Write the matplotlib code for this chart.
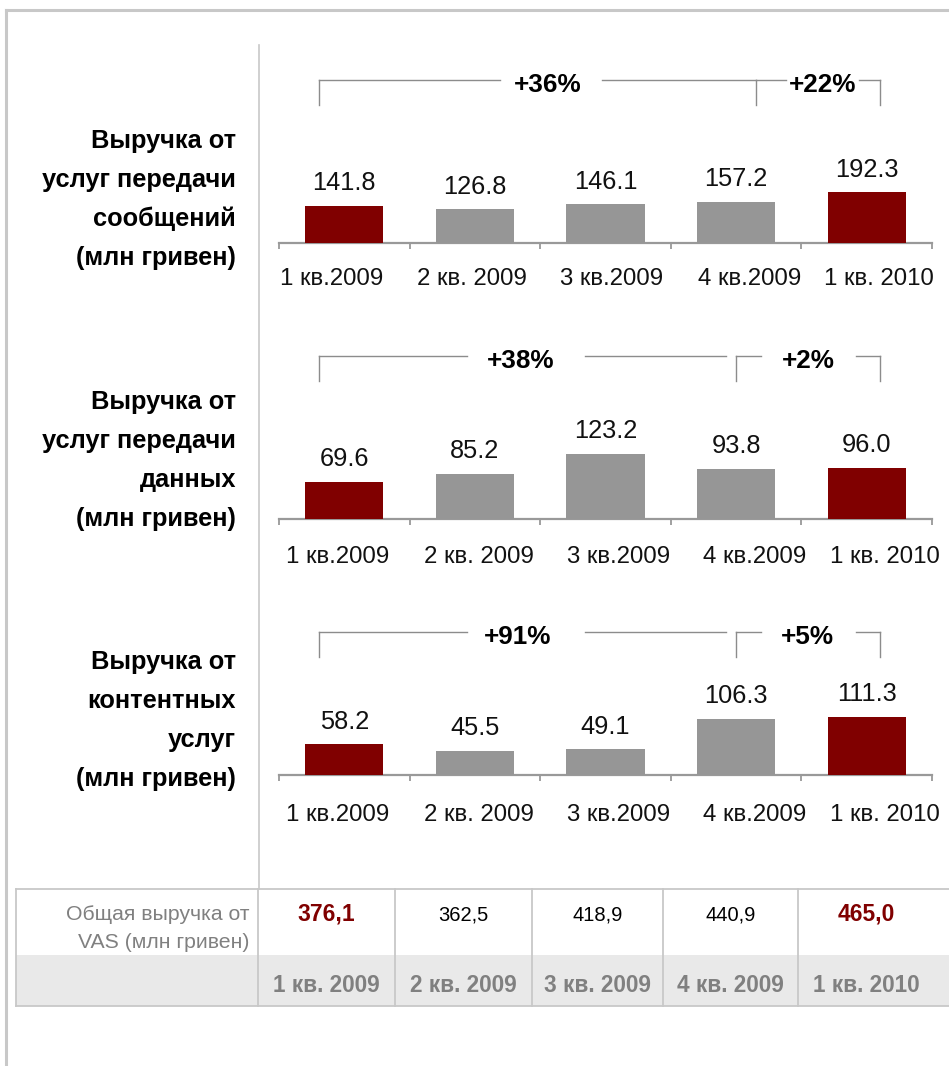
import matplotlib
matplotlib.use('Agg')
import matplotlib.pyplot as plt
from matplotlib.transforms import blended_transform_factory
from matplotlib.lines import Line2D
from matplotlib.patches import Rectangle

plt.rcParams['font.family'] = ['Liberation Sans', 'DejaVu Sans']

# ---------------- data ----------------
quarters = ['1 кв.2009', '2 кв. 2009', '3 кв.2009', '4 кв.2009', '1 кв. 2010']
messaging = [141.8, 126.8, 146.1, 157.2, 192.3]
data_services = [69.6, 85.2, 123.2, 93.8, 96.0]
content_services = [58.2, 45.5, 49.1, 106.3, 111.3]
highlight = [True, False, False, False, True]

panel_titles = [
    ['Выручка от', 'услуг передачи', 'сообщений', '(млн гривен)'],
    ['Выручка от', 'услуг передачи', 'данных', '(млн гривен)'],
    ['Выручка от', 'контентных', 'услуг', '(млн гривен)'],
]
growth_year = ['+36%', '+38%', '+91%']
growth_quarter = ['+22%', '+2%', '+5%']

table_row_title = ['Общая выручка от', 'VAS (млн гривен)']
total_vas = ['376,1', '362,5', '418,9', '440,9', '465,0']
table_quarters = ['1 кв. 2009', '2 кв. 2009', '3 кв. 2009', '4 кв. 2009', '1 кв. 2010']

# ---------------- style ----------------
W, H = 949, 1066
RED = '#800000'
GREY_BAR = '#969696'
LINE = '#c8c8c8'
BRACKET = '#8c8c8c'

fig = plt.figure(figsize=(W / 100, H / 100), dpi=100)
fig.patch.set_facecolor('white')

ov = fig.add_axes([0, 0, 1, 1])
ov.set_xlim(0, W)
ov.set_ylim(H, 0)
ov.axis('off')


def rect(left, top, width, height):
    return [left / W, 1 - (top + height) / H, width / W, height / H]


# frame and separator
ov.add_line(Line2D([6, W], [10, 10], color=LINE, lw=2.2))
ov.add_line(Line2D([6, 6], [10, H], color=LINE, lw=2.2))
ov.add_line(Line2D([259, 259], [45, 889], color=LINE, lw=1.2))

series = [messaging, data_services, content_services]
axis_y = [242.7, 518.5, 775.0]
px_per_unit = [0.262, 0.526, 0.525]
title_first_line = [141, 402, 662]
bracket_top = [80, 356, 632]
label_pad = [18.3, 19.8, 21.0]
# category-label shifts (category units) as laid out on the slide
label_shift = [[-0.10, -0.02, 0.05, 0.10, 0.09],
               [-0.05, 0.03, 0.10, 0.14, 0.14],
               [-0.05, 0.03, 0.10, 0.14, 0.14]]
# bracket geometry in category units: (start, end, left tick, right tick, label pos, gap)
big_br = [(-0.19, 3.15, True, True, 1.56, (1.19, 1.97)),
          (-0.19, 2.92, True, False, 1.35, (0.94, 1.84)),
          (-0.19, 2.92, True, False, 1.33, (0.94, 1.84))]
small_br = [(3.15, 4.10, False, True, 3.66, (3.38, 3.94)),
            (3.00, 4.10, True, True, 3.55, (3.19, 3.92)),
            (3.00, 4.10, True, True, 3.55, (3.19, 3.92))]

AX_LEFT, AX_RIGHT = 279, 932
AX_H = 200

for p in range(3):
    vals = series[p]
    ay = axis_y[p]
    ax = fig.add_axes(rect(AX_LEFT, ay - AX_H, AX_RIGHT - AX_LEFT, AX_H))
    ax.patch.set_alpha(0)
    ax.set_xlim(-0.5, 4.5)
    ax.set_ylim(0, AX_H / px_per_unit[p])
    colors = [RED if h else GREY_BAR for h in highlight]
    ax.bar(range(len(vals)), vals, width=0.6, color=colors, zorder=3)
    for i, v in enumerate(vals):
        ax.annotate(f'{v:.1f}', xy=(i, v), xytext=(0, 11.3), textcoords='offset points',
                    ha='center', va='baseline', fontsize=18.3, color='#111111',
                    annotation_clip=False)
    for s in ['top', 'right', 'left']:
        ax.spines[s].set_visible(False)
    ax.spines['bottom'].set_color('#999999')
    ax.spines['bottom'].set_linewidth(1.6)
    ax.set_yticks([])
    ax.set_xticks([i - 0.5 for i in range(len(vals) + 1)])
    ax.set_xticklabels([])
    ax.tick_params(axis='x', which='major', direction='out', length=4.5, width=1.3,
                   color='#999999')
    ax.set_xticks([i + d for i, d in enumerate(label_shift[p])], labels=quarters, minor=True)
    ax.tick_params(axis='x', which='minor', length=0, pad=label_pad[p], labelsize=17.3,
                   labelcolor='#111111')

    # left title
    for k, line in enumerate(panel_titles[p]):
        ov.text(236, title_first_line[p] + 39 * k + 7, line, ha='right', va='baseline',
                fontsize=18.3, fontweight='bold', color='black')

    # brackets
    tr = blended_transform_factory(ax.transData, ov.transData)
    yt = bracket_top[p]
    yb = yt + 25
    for spec, lab in ((big_br[p], growth_year[p]), (small_br[p], growth_quarter[p])):
        x0, x1, lt, rt, xl, (g0, g1) = spec
        ax.add_line(Line2D([x0, g0], [yt, yt], color=BRACKET, lw=1, transform=tr, clip_on=False))
        ax.add_line(Line2D([g1, x1], [yt, yt], color=BRACKET, lw=1, transform=tr, clip_on=False))
        if lt:
            ax.add_line(Line2D([x0, x0], [yt, yb], color=BRACKET, lw=1, transform=tr, clip_on=False))
        if rt:
            ax.add_line(Line2D([x1, x1], [yt, yb], color=BRACKET, lw=1, transform=tr, clip_on=False))
        ax.text(xl, yt + 12.5, lab, transform=tr, ha='center', va='baseline',
                fontsize=18.8, fontweight='bold', color='black', clip_on=False)

# ---------------- table ----------------
T_TOP, T_MID, T_BOT = 889, 955, 1006
T_LEFT, T_RIGHT = 16, W
col_edges = [258, 395, 532, 663, 798, 935]

ov.add_patch(Rectangle((T_LEFT, T_MID), T_RIGHT - T_LEFT, T_BOT - T_MID,
                       facecolor='#e9e9e9', edgecolor='none'))
for y in (T_TOP, T_BOT):
    ov.add_line(Line2D([T_LEFT, T_RIGHT], [y, y], color=LINE, lw=1.3))
ov.add_line(Line2D([T_LEFT, T_LEFT], [T_TOP, T_BOT], color=LINE, lw=1.3))
for x in col_edges[:-1]:
    ov.add_line(Line2D([x, x], [T_TOP, T_BOT], color=LINE, lw=1.3))

ov.text(250, 920.5, table_row_title[0], ha='right', va='baseline', fontsize=15.3, color='#808080')
ov.text(250, 947.5, table_row_title[1], ha='right', va='baseline', fontsize=15.3, color='#808080')
for i in range(len(total_vas)):
    cx = (col_edges[i] + col_edges[i + 1]) / 2
    ov.text(cx, 920.5, total_vas[i], ha='center', va='baseline',
            fontsize=16.5 if highlight[i] else 14.5,
            fontweight='bold' if highlight[i] else 'normal',
            color=RED if highlight[i] else 'black')
    ov.text(cx, 992, table_quarters[i], ha='center', va='baseline', fontsize=16.3,
            fontweight='bold', color='#808080')

fig.savefig('out.png', dpi=100, facecolor='white')
